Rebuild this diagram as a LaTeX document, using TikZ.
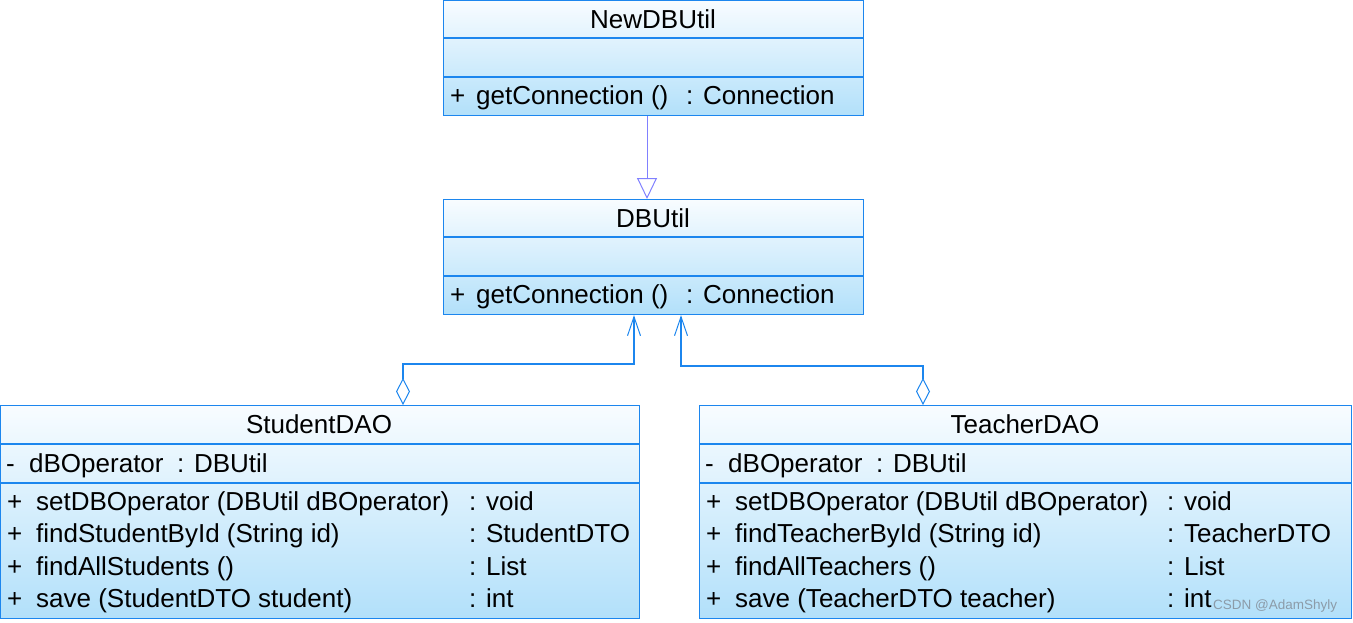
\documentclass[tikz,border=0pt]{standalone}
\usepackage{fontspec}
\setmainfont{Liberation Sans}
\usetikzlibrary{arrows.meta}
\definecolor{bord}{HTML}{1C86EE}
\definecolor{gen}{HTML}{8080FF}
\definecolor{fillA}{HTML}{F8FCFF}
\definecolor{fillB}{HTML}{B2E0FA}
\definecolor{wm}{HTML}{8C9BA8}
\tikzset{
  classbox/.style={draw=bord, line width=1.2pt, shading angle=45, top color=fillA, bottom color=fillB, inner sep=0pt, anchor=north west},
  sep/.style={draw=bord, line width=1.2pt},
  txt/.style={anchor=base west, inner sep=0pt, font=\fontsize{26}{30}\selectfont},
  ttl/.style={anchor=base, inner sep=0pt, font=\fontsize{26}{30}\selectfont},
  genline/.style={draw=gen, line width=1pt, -{Triangle[open, length=21pt, width=20pt, line width=1pt]}},
  aggline/.style={draw=bord, line width=1.2pt, {Diamond[open, length=27pt, width=14pt, line width=1pt]}-{Straight Barb[length=19pt, width=13pt, line width=1pt]}},
  wmark/.style={anchor=base west, inner sep=0pt, text=wm, font=\fontsize{13.5}{16}\selectfont}
}
\begin{document}
\begin{tikzpicture}[x=1pt, y=-1pt]
\useasboundingbox (0,0) rectangle (1353,622);
% boxes
\node[classbox, minimum width=420pt, minimum height=115pt] (newdb) at (443,0) {};
\node[classbox, minimum width=420pt, minimum height=115pt] (dbu) at (443,199) {};
\node[classbox, minimum width=639pt, minimum height=213pt] (stud) at (0,405) {};
\node[classbox, minimum width=652pt, minimum height=213pt] (teach) at (699,405) {};
% separators
\draw[sep] (443,38) -- (863,38) (443,77) -- (863,77);
\draw[sep] (443,237) -- (863,237) (443,276) -- (863,276);
\draw[sep] (0,444) -- (639,444) (0,483) -- (639,483);
\draw[sep] (699,444) -- (1351,444) (699,483) -- (1351,483);
% NewDBUtil
\node[ttl] (t1) at (653,28) {NewDBUtil};
\node[txt] (p1) at (450,104) {+};
\node[txt] (m1) at (476,104) {getConnection ()};
\node[txt] (r1) at (686,104) {: Connection};
% DBUtil
\node[ttl] (t2) at (653,227) {DBUtil};
\node[txt] (p2) at (450,303) {+};
\node[txt] (m2) at (476,303) {getConnection ()};
\node[txt] (r2) at (686,303) {: Connection};
% StudentDAO
\node[ttl] (t3) at (319,433) {StudentDAO};
\node[txt] (sa0) at (6,472) {-};
\node[txt] (sa1) at (29,472) {dBOperator};
\node[txt] (sa2) at (177,472) {: DBUtil};
\node[txt] (sp1) at (7,510) {+};
\node[txt] (sm1) at (36,510) {setDBOperator (DBUtil dBOperator)};
\node[txt] (sr1) at (469,510) {: void};
\node[txt] (sp2) at (7,542.5) {+};
\node[txt] (sm2) at (36,542.5) {findStudentById (String id)};
\node[txt] (sr2) at (469,542.5) {: StudentDTO};
\node[txt] (sp3) at (7,575) {+};
\node[txt] (sm3) at (36,575) {findAllStudents ()};
\node[txt] (sr3) at (469,575) {: List};
\node[txt] (sp4) at (7,607) {+};
\node[txt] (sm4) at (36,607) {save (StudentDTO student)};
\node[txt] (sr4) at (469,607) {: int};
% TeacherDAO
\node[ttl] (t4) at (1025,433) {TeacherDAO};
\node[txt] (ta0) at (705,472) {-};
\node[txt] (ta1) at (728,472) {dBOperator};
\node[txt] (ta2) at (876,472) {: DBUtil};
\node[txt] (tp1) at (706,510) {+};
\node[txt] (tm1) at (735,510) {setDBOperator (DBUtil dBOperator)};
\node[txt] (tr1) at (1167,510) {: void};
\node[txt] (tp2) at (706,542.5) {+};
\node[txt] (tm2) at (735,542.5) {findTeacherById (String id)};
\node[txt] (tr2) at (1167,542.5) {: TeacherDTO};
\node[txt] (tp3) at (706,575) {+};
\node[txt] (tm3) at (735,575) {findAllTeachers ()};
\node[txt] (tr3) at (1167,575) {: List};
\node[txt] (tp4) at (706,607) {+};
\node[txt] (tm4) at (735,607) {save (TeacherDTO teacher)};
\node[txt] (tr4) at (1167,607) {: int};
\node[wmark] (wm) at (1213,609) {CSDN @AdamShyly};
% connectors
\draw[genline] ([xshift=204pt]newdb.south west) -- ([xshift=204pt]dbu.north west);
\draw[aggline] ([xshift=403pt]stud.north west) -- ++(0,-41) -| ([xshift=191pt]dbu.south west);
\draw[aggline] ([xshift=224pt]teach.north west) -- ++(0,-39) -| ([xshift=238pt]dbu.south west);
\end{tikzpicture}
\end{document}
